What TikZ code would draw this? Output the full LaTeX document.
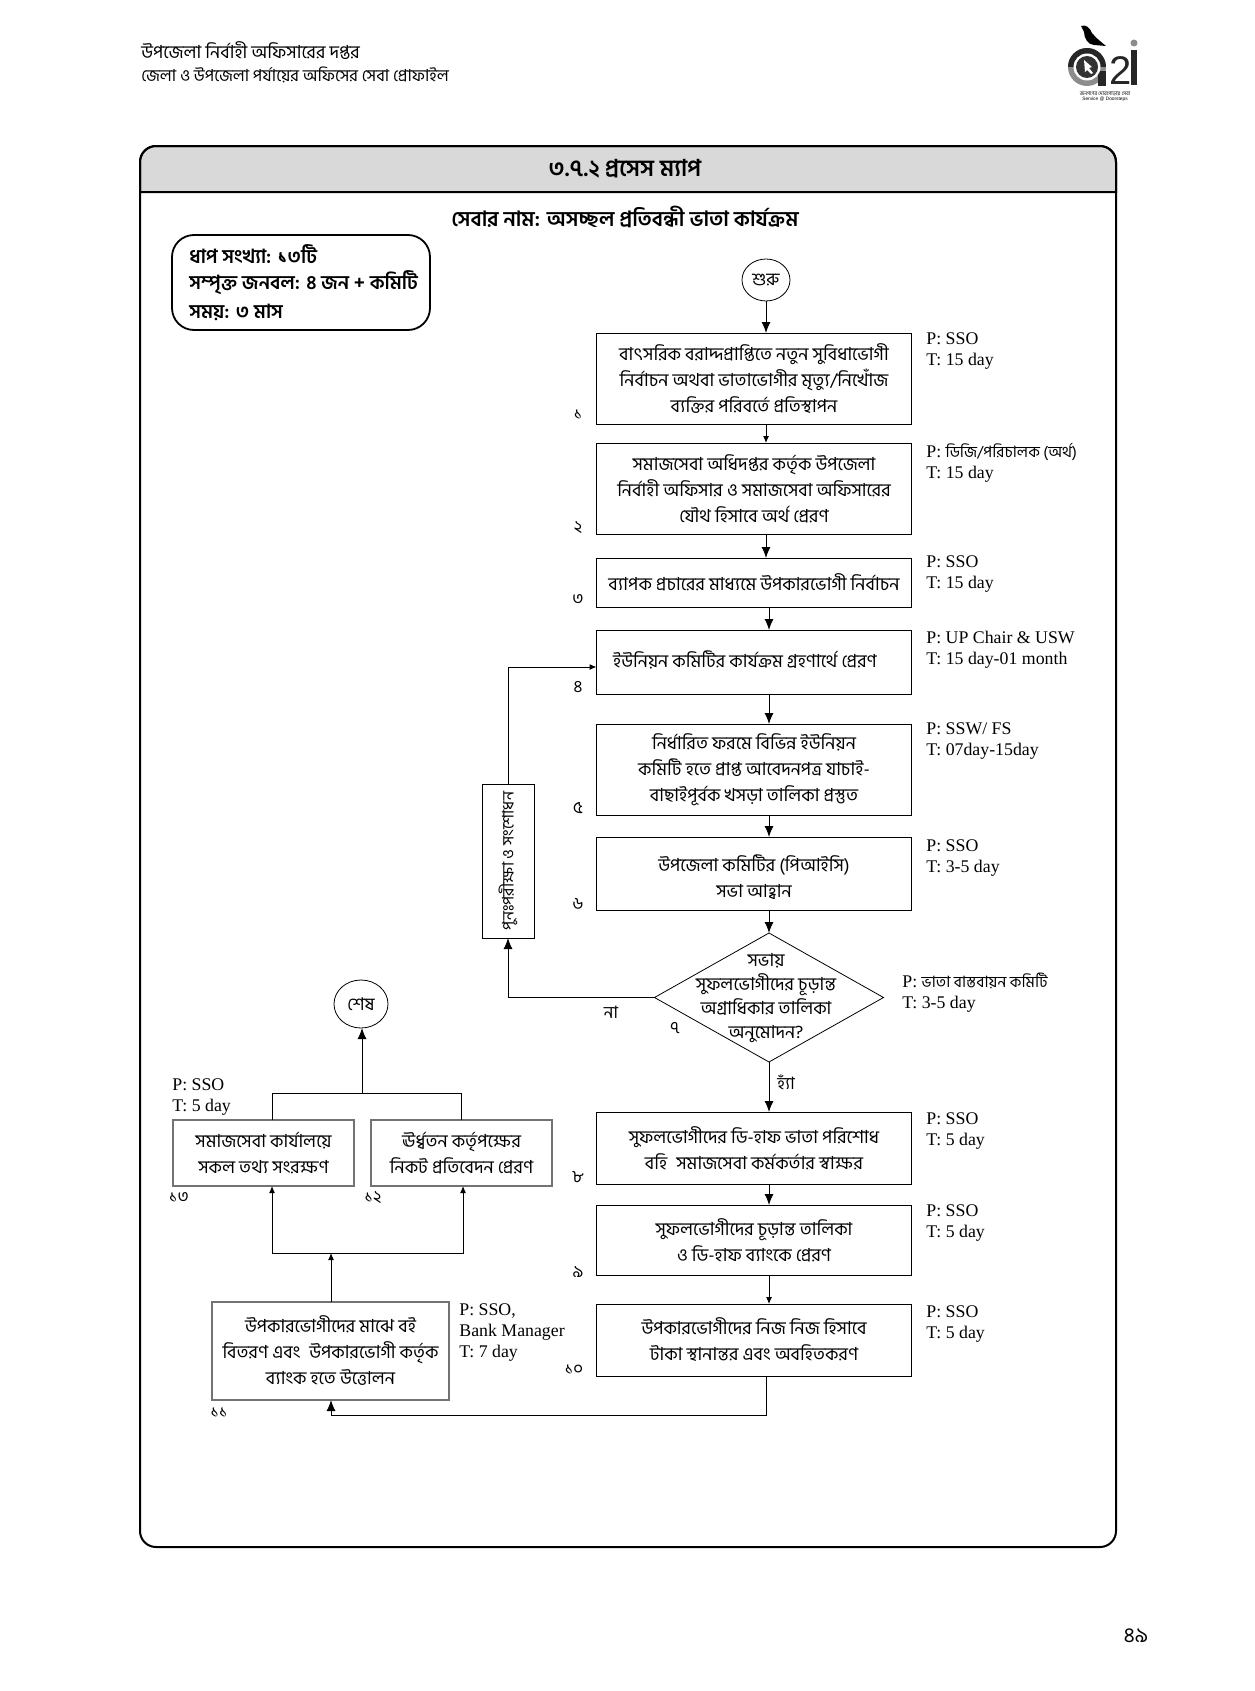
\documentclass[tikz,border=0pt]{standalone}
\usepackage{fontspec}
\setmainfont{Liberation Serif}
\newfontfamily\bn[Script=Bengali]{Hind Siliguri}
\newfontfamily\lat{Liberation Sans}
\usetikzlibrary{shapes.geometric, arrows.meta, positioning, calc}
\begin{document}
\begin{tikzpicture}[
    x=0.5pt, y=-0.5pt,
    line cap=butt,
    stepbox/.style={rectangle, draw=black, line width=0.45pt, fill=white, minimum width=157.5pt, inner sep=1pt, outer sep=0pt, align=center, font=\bn\fontsize{9}{13}\selectfont},
    sidebox/.style={stepbox, draw=black!55, line width=0.6pt},
    roundnode/.style={ellipse, draw=black, line width=0.4pt, inner sep=0pt, outer sep=0pt, font=\bn\fontsize{8.8}{10}\selectfont},
    pt/.style={anchor=west, align=left, inner sep=0pt, font=\fontsize{8.9}{10.5}\selectfont},
    stepno/.style={inner sep=0pt, font=\bn\fontsize{8.5}{9}\selectfont},
    arrow/.style={-{Latex[length=5.5pt,width=4.5pt]}, line width=0.5pt},
    smallarrow/.style={-{Latex[length=3.5pt,width=3pt]}, line width=0.5pt},
    headtext/.style={anchor=west, inner sep=0pt, font=\bn\fontsize{8.3}{9}\selectfont},
    keyline/.style={anchor=west, inner sep=0pt, font=\bn\bfseries\fontsize{9.7}{11}\selectfont}
]
\useasboundingbox (0,0) rectangle (1254,1691);

% Page header
\node[headtext, font=\bn\fontsize{9}{9}\selectfont] (office) at (141,51) {উপজেলা নির্বাহী অফিসারের দপ্তর};
\node[headtext] (profile) at (141,75) {জেলা ও উপজেলা পর্যায়ের অফিসের সেবা প্রোফাইল};

% Logo
\fill[black] (1081,26) .. controls (1086,24) and (1090,28) .. (1092,33) .. controls (1096,38) and (1100,41) .. (1106,46) -- (1094,45) .. controls (1088,45) and (1084,38) .. (1084,32) -- cycle;
\fill[black!45] (1087,67) circle (19);
\fill[black!85] (1068,67) arc (180:360:19) -- (1106,67) -- cycle;
\fill[black!85] (1098,71) rectangle (1106,86);
\fill[white] (1087,67) circle (13.5);
\fill[black!80] (1087,67) circle (11);
\fill[white] (1084,60) -- (1092,67) -- (1089,68) -- (1093,73) -- (1091,74) -- (1087,70) -- (1085,72) -- cycle;
\node[inner sep=0pt, font=\lat\fontsize{20}{20}\selectfont, text=black!85] (two) at (1121,71) {2};
\fill[black!85] (1131,50) rectangle (1137,85);
\fill[black!45] (1134,43) circle (3.5);
\node[inner sep=0pt, font=\bn\fontsize{2.6}{3}\selectfont] (logoa) at (1105,94) {জনগণের দোরগোড়ায় সেবা};
\node[inner sep=0pt, font=\lat\fontsize{2.4}{3}\selectfont] (logob) at (1105,99) {Service @ Doorsteps};

% Frame and title band
\draw[line width=1pt, fill=black!15] (140,192) {[rounded corners=8pt] -- (140,146) -- (1116,146)} -- (1116,192) -- cycle;
\draw[line width=1pt, rounded corners=8pt] (140,146) rectangle (1116,1547);
\node[inner sep=0pt, font=\bn\bfseries\fontsize{11.6}{12}\selectfont] (title) at (625,169) {৩.৭.২ প্রসেস ম্যাপ};
\node[inner sep=0pt, font=\bn\bfseries\fontsize{10.5}{12}\selectfont] (service) at (625,217) {সেবার নাম: অসচ্ছল প্রতিবন্ধী ভাতা কার্যক্রম};

% Key box
\draw[line width=0.9pt, rounded corners=11pt] (172,235) rectangle (430,330);
\node[keyline] (key1) at (189,254) {ধাপ সংখ্যা: ১৩টি};
\node[keyline] (key2) at (189,283) {সম্পৃক্ত জনবল: ৪ জন + কমিটি};
\node[keyline] (key3) at (189,312) {সময়: ৩ মাস};

% Main column
\node[roundnode, minimum width=24pt, minimum height=21pt] (start) at (766,280) {শুরু};
\node[stepbox, minimum height=45.5pt] (step1) at (754,378.5) {বাৎসরিক বরাদ্দপ্রাপ্তিতে নতুন সুবিধাভোগী\\নির্বাচন অথবা ভাতাভোগীর মৃত্যু/নিখোঁজ\\ব্যক্তির পরিবর্তে প্রতিস্থাপন};
\node[stepbox, minimum height=45.5pt, below=9.5pt of step1] (step2) {সমাজসেবা অধিদপ্তর কর্তৃক উপজেলা\\নির্বাহী অফিসার ও সমাজসেবা অফিসারের\\যৌথ হিসাবে অর্থ প্রেরণ};
\node[stepbox, minimum height=24.5pt, below=12pt of step2] (step3) {ব্যাপক প্রচারের মাধ্যমে উপকারভোগী নির্বাচন};
\node[stepbox, minimum height=32pt, below=11.5pt of step3] (step4) {\raisebox{3pt}{ইউনিয়ন কমিটির কার্যক্রম গ্রহণার্থে প্রেরণ\hspace{9pt}}};
\node[stepbox, minimum height=45.5pt, below=15pt of step4] (step5) {নির্ধারিত ফরমে বিভিন্ন ইউনিয়ন\\কমিটি হতে প্রাপ্ত আবেদনপত্র যাচাই-\\বাছাইপূর্বক খসড়া তালিকা প্রস্তুত};
\node[stepbox, minimum height=36.5pt, below=11pt of step5] (step6) {\rule{0pt}{12pt}উপজেলা কমিটির (পিআইসি)\\সভা আহ্বান};
\node[diamond, draw=black, line width=0.4pt, minimum width=114.5pt, minimum height=64.5pt, inner sep=0pt, outer sep=0pt] (step7) at (769,997.5) {};
\node[stepbox, draw=none, fill=none, minimum width=0pt, font=\bn\fontsize{9}{12}\selectfont] (step7text) at (766,998) {সভায়\\সুফলভোগীদের চূড়ান্ত\\অগ্রাধিকার তালিকা\\অনুমোদন?};
\node[stepbox, minimum height=36pt] (step8) at (754,1148) {সুফলভোগীদের ডি-হাফ ভাতা পরিশোধ\\বহি\enspace সমাজসেবা কর্মকর্তার স্বাক্ষর};
\node[stepbox, minimum height=35pt, below=10.5pt of step8] (step9) {সুফলভোগীদের চূড়ান্ত তালিকা\\ও ডি-হাফ ব্যাংকে প্রেরণ};
\node[stepbox, minimum height=36pt, below=14.5pt of step9] (step10) {উপকারভোগীদের নিজ নিজ হিসাবে\\টাকা স্থানান্তর এবং অবহিতকরণ};

% Left column
\node[sidebox, minimum width=118.5pt, minimum height=49pt] (step11) at (330.5,1351) {উপকারভোগীদের মাঝে বই\\বিতরণ এবং\enspace উপকারভোগী কর্তৃক\\ব্যাংক হতে উত্তোলন};
\node[sidebox, minimum width=90.5pt, minimum height=33pt] (step12) at (461.5,1153) {ঊর্ধ্বতন কর্তৃপক্ষের\\নিকট প্রতিবেদন প্রেরণ};
\node[sidebox, minimum width=90.5pt, minimum height=33pt] (step13) at (263.5,1153) {সমাজসেবা কার্যালয়ে\\সকল তথ্য সংরক্ষণ};
\node[roundnode, minimum width=27pt, minimum height=24pt] (finish) at (361,1004) {শেষ};
\node[rectangle, draw=black, line width=0.5pt, rotate=90, minimum width=77pt, minimum height=26pt, inner sep=0pt, outer sep=0pt, font=\bn\fontsize{8}{9}\selectfont] (review) at (508,861) {পুনঃপরীক্ষা ও সংশোধন};

% Step numbers
\node[stepno] (no1) at (578,415) {১};
\node[stepno] (no2) at (578,528) {২};
\node[stepno] (no3) at (578,600) {৩};
\node[stepno] (no4) at (578,687) {৪};
\node[stepno] (no5) at (578,808) {৫};
\node[stepno] (no6) at (578,904) {৬};
\node[stepno] (no7) at (675,1028) {৭};
\node[stepno] (no8) at (578,1177) {৮};
\node[stepno] (no9) at (578,1272) {৯};
\node[stepno] (no10) at (574,1370) {১০};
\node[stepno] (no11) at (219,1413) {১১};
\node[stepno] (no12) at (373,1198) {১২};
\node[stepno] (no13) at (179,1198) {১৩};

% Person and time
\node[pt] (pt1) at (926,351) {P: SSO\\T: 15 day};
\node[pt] (pt2) at (926,463) {P: {\bn\fontsize{7.8}{10.5}\selectfont ডিজি/পরিচালক (অর্থ)}\\T: 15 day};
\node[pt] (pt3) at (926,574) {P: SSO\\T: 15 day};
\node[pt] (pt4) at (926,650) {P: UP Chair \& USW\\T: 15 day-01 month};
\node[pt] (pt5) at (926,741) {P: SSW/ FS\\T: 07day-15day};
\node[pt] (pt6) at (926,858) {P: SSO\\T: 3-5 day};
\node[pt] (pt7) at (902,993) {P: {\bn\fontsize{7.8}{10.5}\selectfont ভাতা বাস্তবায়ন কমিটি}\\T: 3-5 day};
\node[pt] (pt8) at (926,1131) {P: SSO\\T: 5 day};
\node[pt] (pt9) at (926,1223) {P: SSO\\T: 5 day};
\node[pt] (pt10) at (926,1324) {P: SSO\\T: 5 day};
\node[pt] (pt11) at (459,1333) {P: SSO,\\Bank Manager\\T: 7 day};
\node[pt] (pt13) at (172,1097) {P: SSO\\T: 5 day};

% Branch labels
\node[inner sep=0pt, font=\bn\fontsize{8.5}{10}\selectfont] (no) at (611,1012) {না};
\node[inner sep=0pt, font=\bn\fontsize{8.5}{10}\selectfont] (yes) at (786,1082) {হ্যাঁ};

% Page number
\node[inner sep=0pt, font=\bn\fontsize{10.5}{11}\selectfont] (page) at (1136,1636) {৪৯};

% Arrows
\coordinate (colA) at (766,0);
\coordinate (colB) at (769,0);
\coordinate (joinup) at (362,1093);
\coordinate (joindown) at (331,1253);
\coordinate (turn) at (331,1415);
\coordinate (upleft) at (272,0);
\coordinate (upright) at (461,0);
\coordinate (downright) at (463,0);

\draw[arrow] (colA |- start.south) -- (colA |- step1.north);
\draw[smallarrow] (colA |- step1.south) -- (colA |- step2.north);
\draw[arrow] (colA |- step2.south) -- (colA |- step3.north);
\draw[arrow] (colB |- step3.south) -- (colB |- step4.north);
\draw[arrow] (colB |- step4.south) -- (colB |- step5.north);
\draw[arrow] (colB |- step5.south) -- (colB |- step6.north);
\draw[arrow] (colB |- step6.south) -- (step7.north);
\draw[arrow] (step7.south) -- (colB |- step8.north);
\draw[arrow] (colB |- step8.south) -- (colB |- step9.north);
\draw[smallarrow] (colB |- step9.south) -- (colB |- step10.north);

\draw[arrow] (step7.west) -| (review.west);
\draw[smallarrow] (review.east) |- ($(step4.west)+(0,5)$);

\draw[arrow] (colA |- step10.south) |- (turn) -- (turn |- step11.south);
\draw[smallarrow] (joindown |- step11.north) -- (joindown);
\draw[smallarrow] (joindown) -- (upleft |- joindown) -- (upleft |- step13.south);
\draw[smallarrow] (joindown) -- (downright |- joindown) -- (downright |- step12.south);

\draw[line width=0.5pt] (upleft |- step13.north) -- (upleft |- joinup) -- (upright |- joinup) -- (upright |- step12.north);
\draw[arrow] (joinup) -- (joinup |- finish.south);

\end{tikzpicture}
\end{document}
